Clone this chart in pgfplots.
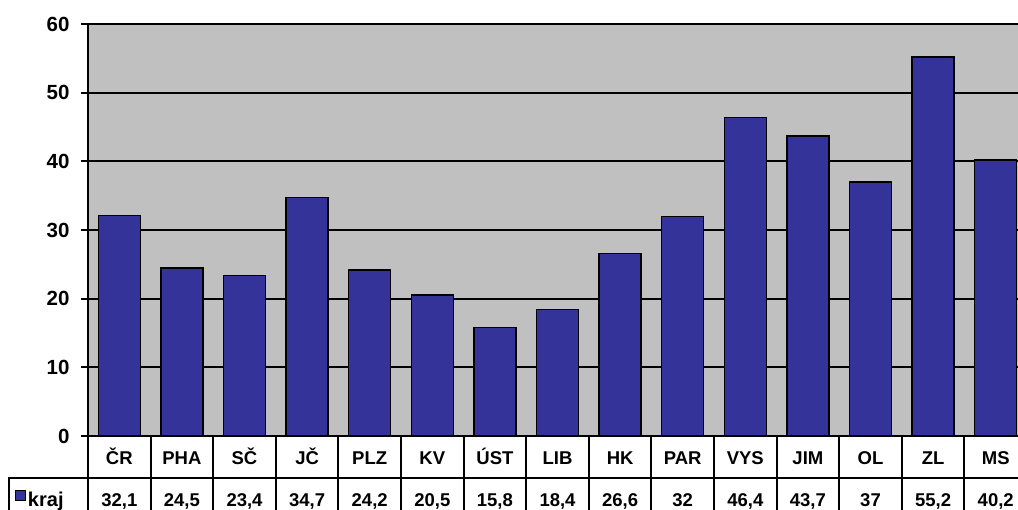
\documentclass[border=0pt]{standalone}
\usepackage{fontspec}
\setmainfont{Liberation Sans}
\usepackage{pgfplots}
\usepackage{pgfplotstable}
\pgfplotsset{compat=1.18}
\definecolor{barblue}{RGB}{51,51,153}
\definecolor{plotgray}{RGB}{192,192,192}
\pgfplotstableread{
x cat val
0 ČR 32.1
1 PHA 24.5
2 SČ 23.4
3 JČ 34.7
4 PLZ 24.2
5 KV 20.5
6 ÚST 15.8
7 LIB 18.4
8 HK 26.6
9 PAR 32
10 VYS 46.4
11 JIM 43.7
12 OL 37
13 ZL 55.2
14 MS 40.2
}\data
\newcommand\tabfont{\fontsize{18.5}{21}\selectfont\bfseries}
\newcommand\legfont{\fontsize{20}{22}\selectfont\bfseries}
\newcommand\axfont{\fontsize{20.5}{24}\selectfont\bfseries}
\begin{document}
\begin{tikzpicture}
\useasboundingbox (0,0) rectangle (1018pt,510pt);
\clip (0,0) rectangle (1018pt,510pt);
\begin{axis}[
  at={(88pt,74pt)}, anchor=south west,
  scale only axis, width=930pt, height=412pt,
  xmin=-0.5, xmax=14.356, ymin=0, ymax=60,
  ytick={0,10,...,60},
  xtick=data, xticklabels from table={\data}{cat},
  axis background/.style={fill=plotgray},
  ymajorgrids, grid style={black, line width=1.9pt},
  axis x line*=bottom, axis y line*=left,
  axis line style={black, line width=1.9pt},
  tick align=outside, major tick length=7pt,
  ytick style={black, line width=1.9pt},
  xtick style={draw=none},
  yticklabel style={font=\axfont, xshift=-8pt},
  xticklabel style={font=\tabfont, anchor=base, yshift=-22pt},
  /pgf/number format/assume math mode=true,
  /pgf/number format/use comma,
  clip=false,
  legend style={at={(axis description cs:-0.0785,-0.1545)}, anchor=west,
    draw=none, fill=none, inner sep=0pt, font=\legfont},
  legend cell align=left,
]
\addplot[ybar, bar width=42pt, bar shift=0pt, fill=barblue, draw=black, line width=1.5pt,
  legend image code/.code={\draw[fill=barblue,draw=black,line width=0.8pt] (0pt,-1pt) rectangle (10pt,9pt);}]
  table[x=x, y=val] {\data};
\addlegendentry{kraj}
\addplot[draw=none, nodes near coords, point meta=\thisrow{val},
  every node near coord/.append style={font=\tabfont, anchor=base, black}]
  table[x=x, y expr=-10.34] {\data};
\pgfplotsinvokeforeach{-0.5,0.5,...,14.5}{
  \draw[black, line width=1.9pt] (axis cs:#1,0) -- (axis cs:#1,-11);
}
\draw[black, line width=1.9pt] (axis cs:-1.762,-11) -- (axis cs:-1.762,-6.116) -- (axis cs:15,-6.116);
\end{axis}
\end{tikzpicture}
\end{document}
